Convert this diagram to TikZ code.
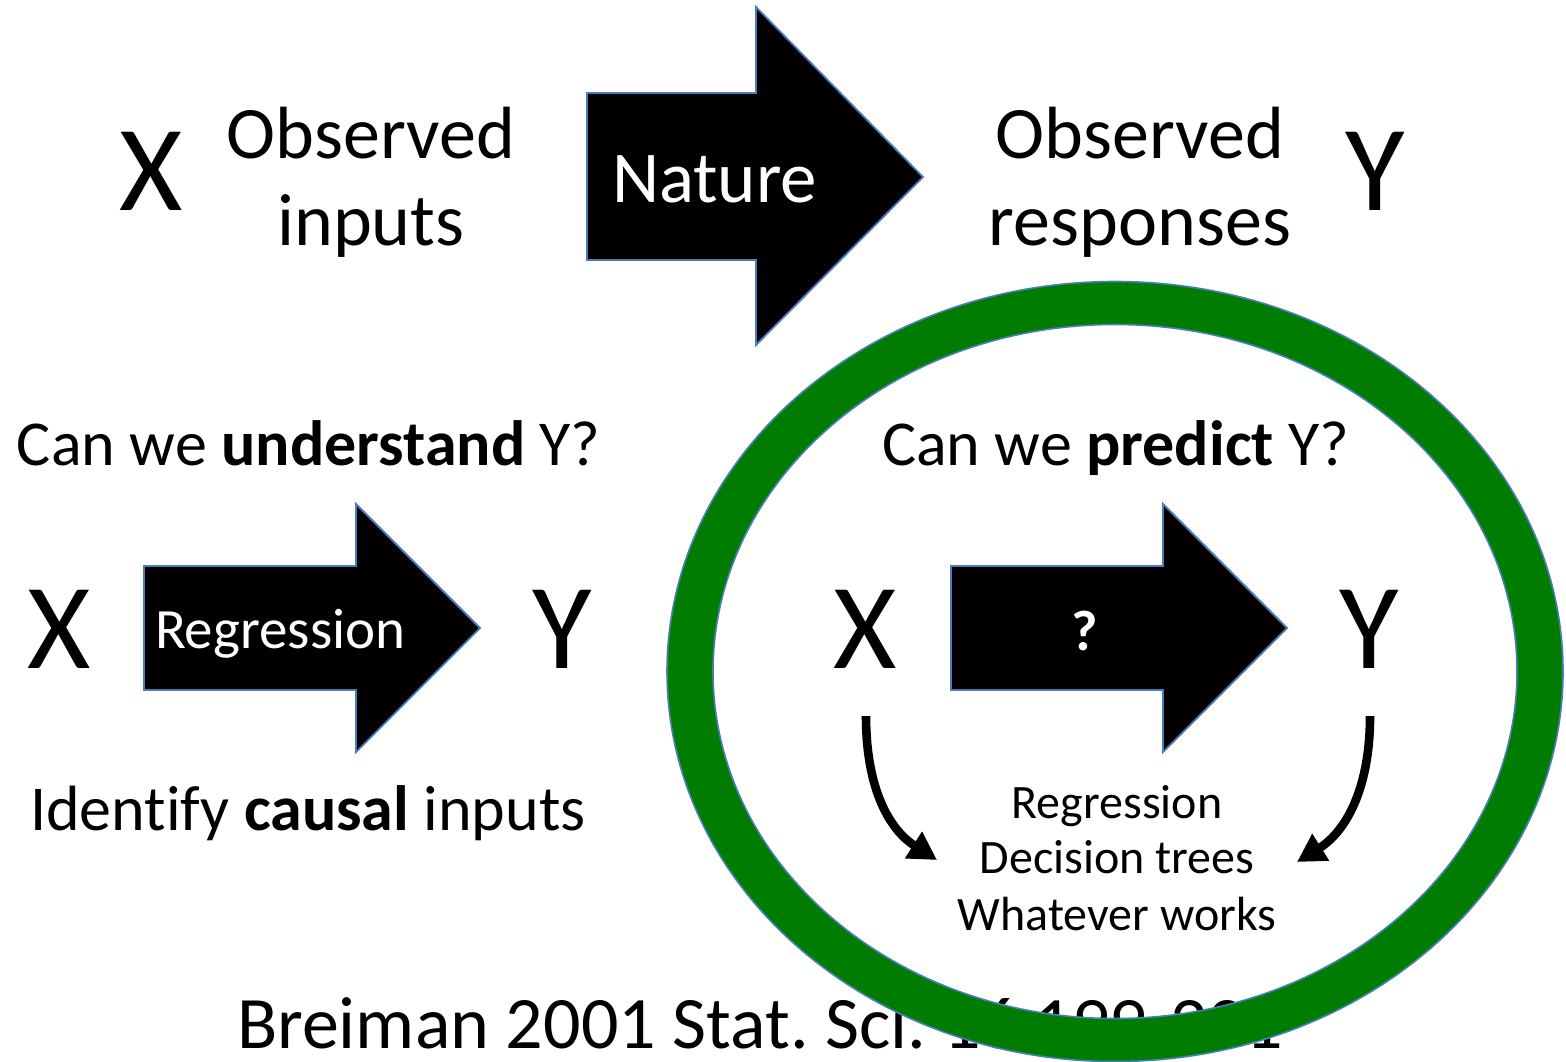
\documentclass[tikz,border=0pt]{standalone}
\usepackage{fontspec}
\setmainfont{Carlito}[Ligatures=NoCommon]
\usetikzlibrary{arrows.meta}
\definecolor{ringgreen}{RGB}{0,124,0}
\definecolor{edgeblue}{RGB}{74,126,187}
\frenchspacing
\begin{document}
\begin{tikzpicture}[x=0.5pt,y=-0.5pt,
  txt/.style={inner sep=0pt, outer sep=0pt},
  bigletter/.style={txt, anchor=base, font=\fontsize{61}{61}\selectfont},
  toptext/.style={txt, anchor=base, font=\fontsize{37}{37}\selectfont},
  midtext/.style={txt, anchor=base west, font=\fontsize{32}{32}\selectfont},
  listtext/.style={txt, anchor=base, font=\fontsize{24}{24}\selectfont},
  blockarrow/.style={fill=black, draw=edgeblue, line width=0.9pt, line join=miter},
  curvearrow/.style={line width=4.3pt, -{Triangle[length=14pt,width=15pt]}},
  ringedge/.style={draw=edgeblue, line width=0.8pt},
]
\useasboundingbox (0,0) rectangle (1566,1061);
\fill[white] (0,0) rectangle (1566,1061);

% ---- top row ----
\node[bigletter] (tx) at (151,210) {X};
\node[toptext] (obsin1) at (371,158) {Observed};
\node[toptext] (obsin2) at (371,245) {inputs};
\draw[blockarrow] (587,93) -- (756,93) -- (756,7) -- (923,177) -- (756,345) -- (756,260) -- (587,260) -- cycle;
\node[txt, anchor=base west, text=white, font=\fontsize{36.5}{36.5}\selectfont] (nature) at (612,202) {Nature};
\node[toptext] (obsre1) at (1140,158) {Observed};
\node[toptext] (obsre2) at (1140,245) {responses};
\node[bigletter] (ty) at (1375,210) {Y};

% ---- left block ----
\node[midtext] (under) at (17,465) {Can we \textbf{understand} Y?};
\node[bigletter] (lx) at (59,668) {X};
\draw[blockarrow] (144,566) -- (356,566) -- (356,504) -- (480,628) -- (356,752) -- (356,690) -- (144,690) -- cycle;
\node[txt, anchor=base west, text=white, font=\fontsize{28.5}{28.5}\selectfont] (regr) at (155,648) {Regression};
\node[bigletter] (ly) at (562,668) {Y};
\node[midtext] (ident) at (30,830) {Identify \textbf{causal} inputs};

% ---- right block ----
\node[midtext] (pred) at (882,465) {Can we \textbf{predict} Y?};
\node[bigletter] (rx) at (865,668) {X};
\draw[blockarrow] (951,566) -- (1163,566) -- (1163,504) -- (1287,628) -- (1163,752) -- (1163,690) -- (951,690) -- cycle;
\node[txt, anchor=base, text=white, font=\bfseries\fontsize{28.5}{28.5}\selectfont] (qm) at (1085,650) {?};
\node[bigletter] (ry) at (1369,668) {Y};
\node[listtext] (m1) at (1117,818) {Regression};
\node[listtext] (m2) at (1117,873) {Decision trees};
\node[listtext] (m3) at (1117,930) {Whatever works};

\coordinate (lstart) at (866,716);
\coordinate (lend) at (937,860);
\coordinate (rstart) at (1370,716);
\coordinate (rend) at (1297,862);
\draw[curvearrow] (lstart) .. controls (866,790) and (890,830) .. (lend);
\draw[curvearrow] (rstart) .. controls (1370,790) and (1345,832) .. (rend);

% ---- citation ----
\node[txt, anchor=base west, font=\fontsize{37}{37}\selectfont] (cite) at (237,1048) {Breiman 2001 Stat. Sci. 16 199-231};

% ---- green ring (on top) ----
\fill[ringgreen, even odd rule] (1115,671.5) ellipse [x radius=224pt, y radius=195pt]
  (1115,671.5) ellipse [x radius=201pt, y radius=173.5pt];
\draw[ringedge] (1115,671.5) ellipse [x radius=224pt, y radius=195pt];
\draw[ringedge] (1115,671.5) ellipse [x radius=201pt, y radius=173.5pt];
\end{tikzpicture}
\end{document}
